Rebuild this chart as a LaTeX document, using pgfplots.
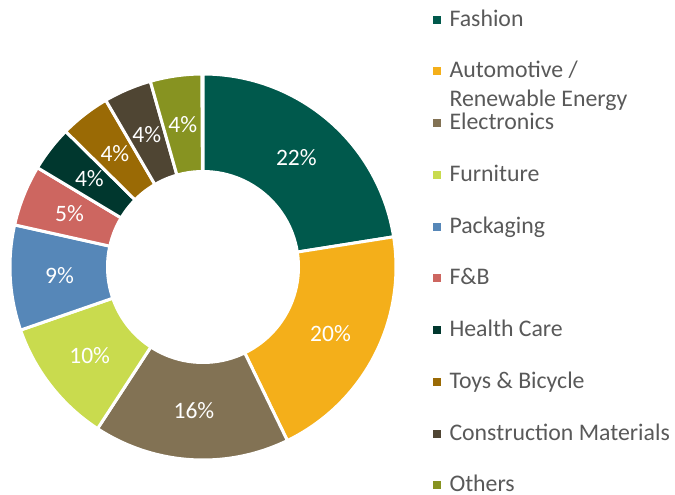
\documentclass[border=0pt]{standalone}
\usepackage{pgfplots}
\usepackage{pgfplotstable}
\pgfplotsset{compat=1.18}
\usepackage{fontspec}
\setmainfont{Carlito}
\definecolor{c0}{HTML}{00594C}
\definecolor{c1}{HTML}{F4AF1A}
\definecolor{c2}{HTML}{827254}
\definecolor{c3}{HTML}{C9DB4E}
\definecolor{c4}{HTML}{5687B8}
\definecolor{c5}{HTML}{CD6660}
\definecolor{c6}{HTML}{00372E}
\definecolor{c7}{HTML}{9A6A05}
\definecolor{c8}{HTML}{4F4533}
\definecolor{c9}{HTML}{879321}
\definecolor{legtext}{HTML}{595959}
\pgfplotstableread{
value label
22.5  22
20.3  20
16.4  16
10.5  10
8.8   9
5.1   5
3.8   4
4.2   4
4.0   4
4.3   4
}\piedata
\begin{document}
\begin{tikzpicture}
\useasboundingbox (0,0) rectangle (675bp,495bp);
\begin{axis}[
  at={(10bp,35bp)}, anchor=south west,
  scale only axis, width=386bp, height=386bp,
  xmin=-1, xmax=1, ymin=-1, ymax=1,
  hide axis, clip=false,
  legend style={draw=none, fill=none, inner sep=0pt, outer sep=0pt,
    at={(1.0959,1.1684)}, anchor=north west,
    font=\fontsize{23.8bp}{29bp}\selectfont, text=legtext,
    nodes={inner sep=0pt, outer sep=0pt, text height=17bp, text depth=3bp, anchor=base west},
    row sep=31.75bp,
    /tikz/every odd column/.append style={column sep=8.5bp}},
  legend cell align=left,
  legend image code/.code={\fill[#1, draw=none] (0bp,2.4bp) rectangle (8bp,10.4bp);},
  legend entries={Fashion,
    {\begin{tabular}[t]{@{}l@{}}Automotive /\\Renewable Energy\end{tabular}},
    Electronics, Furniture, Packaging, F\&B, Health Care, Toys \& Bicycle,
    Construction Materials, Others},
]
\def\cum{0}
\pgfplotsforeachungrouped \i in {0,...,9}{%
  \pgfplotstablegetelem{\i}{value}\of\piedata
  \let\v\pgfplotsretval
  \pgfplotstablegetelem{\i}{label}\of\piedata
  \let\lab\pgfplotsretval
  \pgfmathsetmacro\a{90-\cum*3.6}%
  \pgfmathsetmacro\b{90-(\cum+\v)*3.6}%
  \pgfmathsetmacro\m{(\a+\b)/2}%
  \pgfmathsetmacro\lx{0.745*cos(\m)}%
  \pgfmathsetmacro\ly{0.745*sin(\m)}%
  \edef\temp{\noexpand\addplot[fill=c\i, draw=white, line width=3bp, line join=round,
      domain=\b:\a, samples=80, variable=\noexpand\t]
      ({cos(\noexpand\t)},{sin(\noexpand\t)}) -- (axis cs:0,0) -- cycle;}%
  \temp
  \edef\temp{\noexpand\node[text=white, font=\noexpand\fontsize{23.5bp}{28bp}\noexpand\selectfont]
      at (axis cs:\lx,\ly) {\lab\noexpand\%};}%
  \temp
  \pgfmathsetmacro\cum{\cum+\v}%
}
\fill[white] (axis cs:0,0) circle[radius=97bp];
\end{axis}
\end{tikzpicture}
\end{document}
